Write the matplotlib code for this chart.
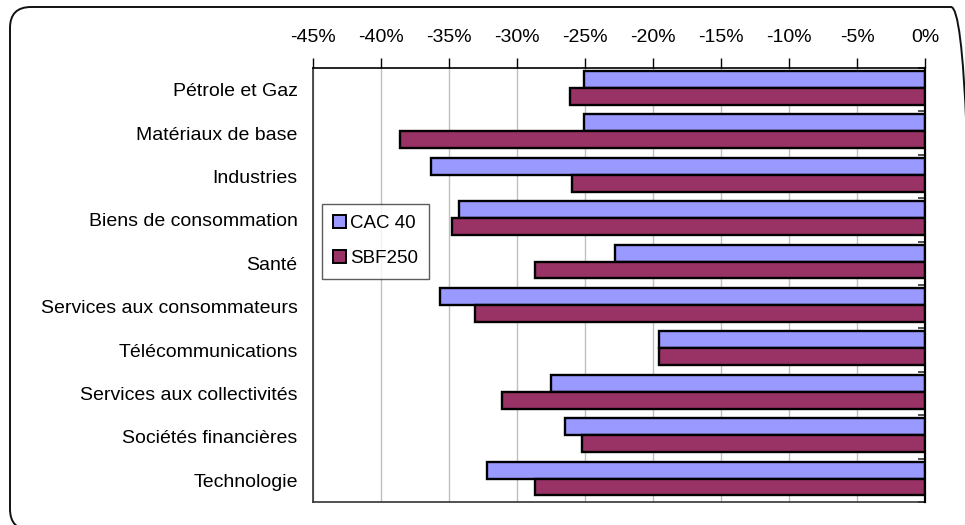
import matplotlib
matplotlib.use("Agg")
import matplotlib.pyplot as plt
import numpy as np
from matplotlib.patches import FancyBboxPatch
from matplotlib.ticker import FixedLocator, FuncFormatter

categories = ["Pétrole et Gaz", "Matériaux de base", "Industries",
              "Biens de consommation", "Santé", "Services aux consommateurs",
              "Télécommunications", "Services aux collectivités",
              "Sociétés financières", "Technologie"]
cac40 = [-25.1, -25.1, -36.3, -34.3, -22.8, -35.7, -19.6, -27.5, -26.5, -32.2]
sbf250 = [-26.1, -38.6, -26.0, -34.8, -28.7, -33.1, -19.6, -31.1, -25.2, -28.7]
series_names = ["CAC 40", "SBF250"]
xticks = [-45, -40, -35, -30, -25, -20, -15, -10, -5, 0]

plt.rcParams['font.family'] = ['Liberation Sans', 'DejaVu Sans']

W, H = 965, 525
fig = plt.figure(figsize=(W / 100, H / 100), dpi=100)

# rounded outer border
border = FancyBboxPatch((10 / W, -5 / H), (972 - 10) / W, (H - 7 + 5) / H,
                        boxstyle="round,pad=0,rounding_size=%f" % (21 / W),
                        transform=fig.transFigure, fill=False,
                        edgecolor="#111111", linewidth=1.4, clip_on=False,
                        mutation_aspect=W / H)
fig.patches.append(border)

ax = fig.add_axes([313 / W, 1 - 502 / H, (925.3 - 313) / W, (502 - 68) / H])

n = len(categories)
y = np.arange(n)
h = 0.39
c1, c2 = "#9999FF", "#993366"
ax.barh(y - 0.235, cac40, height=h, color=c1, edgecolor="black", linewidth=1.7,
        label=series_names[0], zorder=3)
ax.barh(y + 0.155, sbf250, height=h, color=c2, edgecolor="black", linewidth=1.7,
        label=series_names[1], zorder=3)

ax.set_xlim(-45, 0)
ax.set_ylim(n - 0.5, -0.5)

ax.xaxis.tick_top()
ax.set_xticks(xticks)
ax.xaxis.set_major_formatter(FuncFormatter(lambda v, p: f"{int(round(v))}%"))
ax.tick_params(axis="x", which="major", direction="out", length=7, width=1,
               pad=9, labelsize=14, color="black")
ax.grid(axis="x", color="#c0c0c0", linewidth=1, zorder=0)

ax.set_yticks(y)
ax.set_yticklabels(categories)
ax.tick_params(axis="y", which="major", length=0, pad=11, labelsize=14)
ax.yaxis.set_minor_locator(FixedLocator(np.arange(-0.5, n, 1.0)))
ax.tick_params(axis="y", which="minor", left=False, right=True,
               direction="in", length=5, width=1.2, color="#333333")

for s in ["left", "bottom"]:
    ax.spines[s].set_color("#333333")
    ax.spines[s].set_linewidth(1.2)
ax.spines["top"].set_color("black")
ax.spines["top"].set_linewidth(1.2)
ax.spines["right"].set_color("black")
ax.spines["right"].set_linewidth(1.6)
ax.spines["right"].set_zorder(4)

leg = ax.legend(loc="upper left",
                bbox_to_anchor=(322 / W, 1 - 276 / H, (429 - 322) / W, (276 - 204) / H),
                bbox_transform=fig.transFigure, mode="expand",
                frameon=True, fancybox=False, edgecolor="#333333",
                fontsize=13.5, handlelength=0.7, handleheight=0.7,
                handletextpad=0.2, labelspacing=0.95, borderpad=0.6,
                borderaxespad=0)
leg.get_frame().set_linewidth(1.0)
leg.set_zorder(5)
for p in leg.get_patches():
    p.set_linewidth(1.4)

fig.savefig("out.png", dpi=100)
